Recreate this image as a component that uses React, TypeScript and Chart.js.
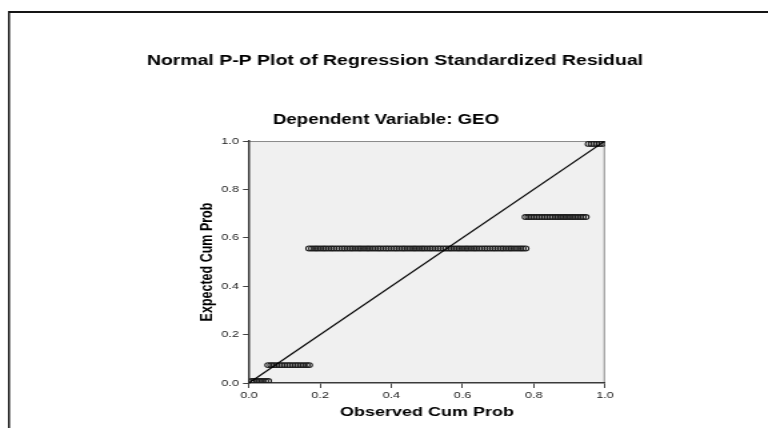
import React, { useEffect, useRef } from 'react';
import { Chart, registerables } from 'chart.js';

Chart.register(...registerables);

// ---- text ----
const chartTitle = 'Normal P-P Plot of Regression Standardized Residual';
const chartSubtitle = 'Dependent Variable: GEO';
const xAxisTitle = 'Observed Cum Prob';
const yAxisTitle = 'Expected Cum Prob';

// ---- ticks ----
const tickValues = [0, 0.2, 0.4, 0.6, 0.8, 1.0];
const tickLabels = ['0.0', '0.2', '0.4', '0.6', '0.8', '1.0'];

// ---- diagonal reference line ----
const refLineX = [0, 1];
const refLineY = [0, 1];

// ---- P-P points (observed cum prob, grouped by expected cum prob level) ----
const expectedLevels = [0.008, 0.074, 0.556, 0.686, 0.988];
const observedGroup1 = [0.008, 0.015, 0.023, 0.031, 0.038, 0.046, 0.054];
const observedGroup2 = [
  0.054, 0.062, 0.069, 0.077, 0.085, 0.092, 0.100, 0.108, 0.115, 0.123, 0.131,
  0.138, 0.146, 0.154, 0.162, 0.169,
];
const observedGroup3 = [
  0.169, 0.177, 0.185, 0.192, 0.200, 0.208, 0.215, 0.223, 0.231, 0.238, 0.246,
  0.254, 0.262, 0.269, 0.277, 0.285, 0.292, 0.300, 0.308, 0.315, 0.323, 0.331,
  0.338, 0.346, 0.354, 0.362, 0.369, 0.377, 0.385, 0.392, 0.400, 0.408, 0.415,
  0.423, 0.431, 0.438, 0.446, 0.454, 0.462, 0.469, 0.477, 0.485, 0.492, 0.500,
  0.508, 0.515, 0.523, 0.531, 0.538, 0.546, 0.554, 0.562, 0.569, 0.577, 0.585,
  0.592, 0.600, 0.608, 0.615, 0.623, 0.631, 0.638, 0.646, 0.654, 0.662, 0.669,
  0.677, 0.685, 0.692, 0.700, 0.708, 0.715, 0.723, 0.731, 0.738, 0.746, 0.754,
  0.762, 0.769, 0.777,
];
const observedGroup4 = [
  0.777, 0.785, 0.792, 0.800, 0.808, 0.815, 0.823, 0.831, 0.838, 0.846, 0.854,
  0.862, 0.869, 0.877, 0.885, 0.892, 0.900, 0.908, 0.915, 0.923, 0.931, 0.938,
  0.946,
];
const observedGroup5 = [0.954, 0.962, 0.969, 0.977, 0.985, 0.992];
const observedGroups = [observedGroup1, observedGroup2, observedGroup3, observedGroup4, observedGroup5];

// ---- render geometry (internal canvas is drawn narrower, then stretched like the source image) ----
const PAGE_W = 768;
const PAGE_H = 428;
const CANVAS_W = 576;

const SANS = "'Liberation Sans', Arial, Helvetica, sans-serif";

const framePlugin = {
  id: 'framePlugin',
  afterLayout(chart: any) {
    // give the titles a wide box, centred like the source
    chart.boxes.forEach((b: any) => {
      if (!b || !b.options) return;
      if (b.options.text === chartTitle) {
        b.left = 296.25 - 220;
        b.right = 296.25 + 220;
      } else if (b.options.text === chartSubtitle) {
        b.left = 289.5 - 150;
        b.right = 289.5 + 150;
      }
    });
  },
  beforeDraw(chart: any) {
    const { ctx, chartArea } = chart;
    ctx.save();
    // outer frame (top + left)
    ctx.fillStyle = '#151515';
    ctx.fillRect(6, 11, chart.width, 2);
    ctx.fillRect(6, 11, 1.5, chart.height);
    // plot background
    const { left, top, right, bottom } = chartArea;
    ctx.fillStyle = '#f0f0f0';
    ctx.fillRect(left, top, right - left, bottom - top);
    ctx.strokeStyle = '#8a8a8a';
    ctx.lineWidth = 1;
    ctx.beginPath();
    ctx.moveTo(left, top + 0.5);
    ctx.lineTo(right - 0.5, top + 0.5);
    ctx.lineTo(right - 0.5, bottom);
    ctx.stroke();
    ctx.restore();
  },
};

export default function App() {
  const ref = useRef<HTMLCanvasElement | null>(null);

  useEffect(() => {
    if (!ref.current) return;
    const points: { x: number; y: number }[] = [];
    observedGroups.forEach((grp, gi) => {
      grp.forEach((x) => points.push({ x, y: expectedLevels[gi] }));
    });
    const line = refLineX.map((x, i) => ({ x, y: refLineY[i] }));

    const chart = new Chart(ref.current, {
      type: 'scatter',
      data: {
        datasets: [
          {
            type: 'line',
            data: line,
            borderColor: '#000',
            borderWidth: 1.2,
            pointRadius: 0,
            fill: false,
          } as any,
          {
            data: points,
            pointStyle: 'circle',
            pointRadius: 2.4,
            pointBorderWidth: 1.1,
            pointBorderColor: '#1c1c1c',
            pointBackgroundColor: 'rgba(0,0,0,0)',
          },
        ],
      },
      options: {
        responsive: false,
        animation: false,
        events: [],
        layout: { padding: { left: 138.75, right: 122.25, top: 0, bottom: 0 } },
        plugins: {
          legend: { display: false },
          tooltip: { enabled: false },
          title: {
            display: true,
            text: chartTitle,
            color: '#000',
            font: { family: SANS, size: 14.6, weight: 'bold' },
            padding: { top: 52.2, bottom: 0 },
          },
          subtitle: {
            display: true,
            text: chartSubtitle,
            color: '#000',
            font: { family: SANS, size: 14, weight: 'bold' },
            padding: { top: 41.9, bottom: 12.6 },
          },
        },
        scales: {
          x: {
            type: 'linear',
            min: 0,
            max: 1,
            afterBuildTicks: (s: any) => {
              s.ticks = tickValues.map((v) => ({ value: v }));
            },
            afterFit: (s: any) => {
              s.height = 45;
              s.paddingLeft = 0;
              s.paddingRight = 0;
            },
            ticks: {
              callback: (_v: any, i: number) => tickLabels[i],
              color: '#222',
              font: { family: SANS, size: 9.5 },
              padding: 2,
              maxRotation: 0,
            },
            grid: {
              display: true,
              drawOnChartArea: false,
              drawTicks: true,
              tickLength: 5,
              tickColor: '#444',
              tickWidth: 1,
            },
            border: { display: true, color: '#3a3a3a', width: 1.5 },
            title: {
              display: true,
              text: xAxisTitle,
              color: '#000',
              font: { family: SANS, size: 13.5, weight: 'bold' },
              padding: { top: 0, bottom: 7.9 },
            },
          },
          y: {
            type: 'linear',
            min: 0,
            max: 1,
            afterBuildTicks: (s: any) => {
              s.ticks = tickValues.map((v) => ({ value: v }));
            },
            afterFit: (s: any) => {
              s.width = 48;
              s.paddingTop = 0;
              s.paddingBottom = 0;
            },
            ticks: {
              callback: (_v: any, i: number) => tickLabels[i],
              color: '#222',
              font: { family: SANS, size: 9.5 },
              padding: 3,
            },
            grid: {
              display: true,
              drawOnChartArea: false,
              drawTicks: true,
              tickLength: 4.5,
              tickColor: '#444',
              tickWidth: 1,
            },
            border: { display: true, color: '#3a3a3a', width: 1.5 },
            title: {
              display: true,
              text: yAxisTitle,
              color: '#000',
              font: { family: SANS, size: 12.5, weight: 'bold' },
              padding: { top: 9.5, bottom: 0 },
            },
          },
        },
      },
      plugins: [framePlugin],
    } as any);
    return () => chart.destroy();
  }, []);

  return (
    <div style={{ position: 'fixed', left: 0, top: 0, width: PAGE_W, height: PAGE_H, background: '#fff', overflow: 'hidden' }}>
      <canvas
        ref={ref}
        width={CANVAS_W}
        height={PAGE_H}
        style={{ width: PAGE_W + 'px', height: PAGE_H + 'px', display: 'block' }}
      />
    </div>
  );
}
